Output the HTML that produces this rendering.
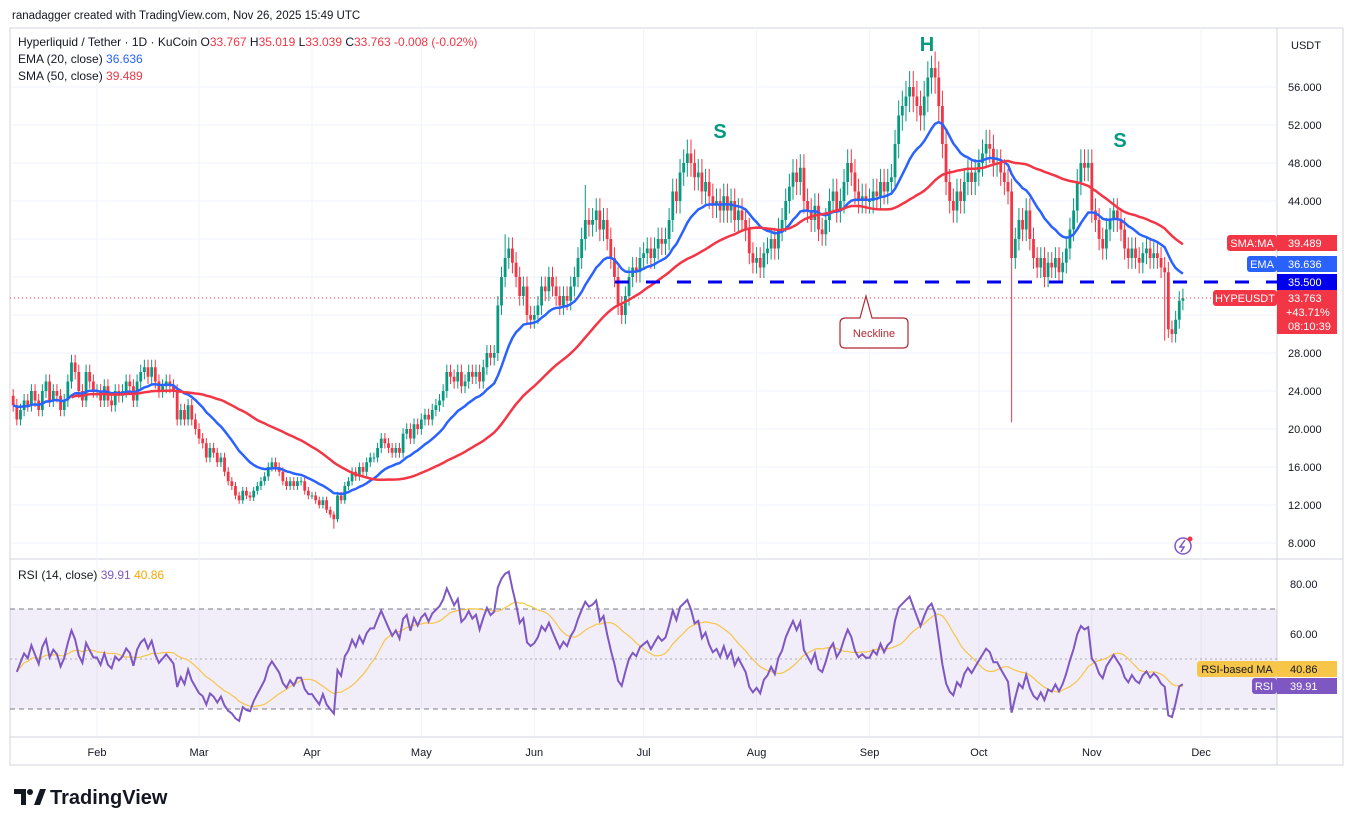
<!DOCTYPE html>
<html><head><meta charset="utf-8">
<style>
body{margin:0;background:#fff;font-family:"Liberation Sans",sans-serif;}
svg text{font-family:"Liberation Sans",sans-serif;}
</style></head>
<body>
<svg id="c" width="1353" height="826" viewBox="0 0 1353 826" xmlns="http://www.w3.org/2000/svg">
<rect x="0" y="0" width="1353" height="826" fill="#fff"/>
<text x="12" y="19" font-size="11.5" fill="#131722">ranadagger created with TradingView.com, Nov 26, 2025 15:49 UTC</text>
<rect x="10" y="28" width="1333" height="737" fill="none" stroke="#d1d4dc"/>
<line x1="1277" y1="28" x2="1277" y2="765" stroke="#d1d4dc"/>
<line x1="10" y1="559" x2="1343" y2="559" stroke="#d1d4dc"/>
<line x1="10" y1="737" x2="1343" y2="737" stroke="#d1d4dc"/>
<g id="grid"></g>
<rect x="10" y="609" width="1267" height="100" fill="#7e57c2" fill-opacity="0.1"/>
<line x1="10" y1="609" x2="1277" y2="609" stroke="#787b86" stroke-dasharray="5,4"/>
<line x1="10" y1="659" x2="1277" y2="659" stroke="#787b86" stroke-dasharray="2,3" stroke-opacity="0.6"/>
<line x1="10" y1="709" x2="1277" y2="709" stroke="#787b86" stroke-dasharray="5,4"/>
<g id="candles"></g>
<g id="mas"></g>
<line x1="615" y1="282" x2="1277" y2="282" stroke="#0000ee" stroke-width="3" stroke-dasharray="14,17"/>
<line x1="10" y1="298" x2="1277" y2="298" stroke="#f23645" stroke-dasharray="1,3"/>
<g id="rsi"></g>
<text x="720" y="138" font-size="20" font-weight="bold" fill="#089981" text-anchor="middle">S</text>
<text x="927" y="51" font-size="20" font-weight="bold" fill="#089981" text-anchor="middle">H</text>
<text x="1120" y="147" font-size="20" font-weight="bold" fill="#089981" text-anchor="middle">S</text>
<g>
<path d="M846,318 L860,318 L866,296 L872,318 L903,318 Q908,318 908,323 L908,343 Q908,348 903,348 L845,348 Q840,348 840,343 L840,323 Q840,318 846,318 Z" fill="#fff" stroke="#b22833" stroke-width="1.2"/>
<text x="874" y="337" font-size="11" fill="#b22833" text-anchor="middle">Neckline</text>
</g>
<g font-size="12" fill="#131722">
<text x="18" y="46">Hyperliquid / Tether · 1D · KuCoin <tspan fill="#131722">O</tspan><tspan fill="#f23645">33.767</tspan> H<tspan fill="#f23645">35.019</tspan> L<tspan fill="#f23645">33.039</tspan> C<tspan fill="#f23645">33.763 -0.008 (-0.02%)</tspan></text>
<text x="18" y="63">EMA (20, close) <tspan fill="#2962ff">36.636</tspan></text>
<text x="18" y="80">SMA (50, close) <tspan fill="#f23645">39.489</tspan></text>
<text x="18" y="579">RSI (14, close) <tspan fill="#7e57c2">39.91</tspan> <tspan fill="#f7a600">40.86</tspan></text>
</g>
<text x="1291" y="49" font-size="11" fill="#131722">USDT</text>
<g id="axes" font-size="11" fill="#131722"></g>
<g font-size="11">
<rect x="1227" y="235" width="50" height="16" rx="3" fill="#f23645"/><text x="1252" y="247" fill="#fff" text-anchor="middle">SMA:MA</text>
<rect x="1277" y="235" width="60" height="16" fill="#f23645"/><text x="1288" y="247" fill="#fff">39.489</text>
<rect x="1247" y="256" width="30" height="16" rx="3" fill="#2962ff"/><text x="1262" y="268" fill="#fff" text-anchor="middle">EMA</text>
<rect x="1277" y="256" width="60" height="16" fill="#2962ff"/><text x="1288" y="268" fill="#fff">36.636</text>
<rect x="1277" y="274" width="60" height="16" fill="#0000ee"/><text x="1288" y="286" fill="#fff">35.500</text>
<rect x="1213" y="290" width="64" height="16" rx="3" fill="#f23645"/><text x="1245" y="302" fill="#fff" text-anchor="middle">HYPEUSDT</text>
<rect x="1277" y="290" width="60" height="44" fill="#f23645"/><text x="1288" y="302" fill="#fff">33.763</text>
<text x="1286" y="316" fill="#fff">+43.71%</text><text x="1288" y="330" fill="#fff">08:10:39</text>
<rect x="1197" y="661" width="80" height="16" rx="3" fill="#f7c548"/><text x="1237" y="673" fill="#131722" text-anchor="middle">RSI-based MA</text>
<rect x="1277" y="661" width="60" height="16" fill="#f7c548"/><text x="1290" y="673" fill="#131722">40.86</text>
<rect x="1252" y="678" width="25" height="16" rx="3" fill="#7e57c2"/><text x="1264" y="690" fill="#fff" text-anchor="middle">RSI</text>
<rect x="1277" y="678" width="60" height="16" fill="#7e57c2"/><text x="1290" y="690" fill="#fff">39.91</text>
</g>
<g><circle cx="1183" cy="546" r="8" fill="none" stroke="#7e57c2" stroke-width="1.5"/><path d="M1185,540 L1180,547 L1184,547 L1181,552" fill="none" stroke="#7e57c2" stroke-width="1.5"/><circle cx="1190" cy="539" r="2.5" fill="#f23645"/></g>
<g>
<path d="M14,789 h12 v16 h-5 v-11 h-7 z" fill="#131722"/><circle cx="30" cy="792" r="3" fill="#131722"/><path d="M34,805 l6,-16 h6 l-6,16 z" fill="#131722"/>
<text x="50" y="804" font-size="20" font-weight="bold" fill="#131722">TradingView</text>
</g>
</svg>
<script>
const closes=[22.5,21,22,23,22.5,24,23,22,24,25,23,24,23.5,22,23,25,27,26,24,23,26,25,24,
24,23,24.5,23,22.5,24,23.5,24,25,24.5,23,25,26,26.5,25.5,26.5,25,24,24.5,25,24.5,24,21,22,21,22.5,21,20,
19,18.5,17,18,17.5,16.5,17,15.5,14.5,14,13,12.5,13.5,13,12.8,13.5,14,14.5,15,16,16.5,16,15.5,14.5,14,14.5,14,14.5,14.5,13.5,13,
13,12.5,12,12.5,11.5,11,10.5,13,12.5,14,14.5,15.5,15,16,15.5,16.5,17,17,18,19,18.5,18,17.5,18,17.5,19.5,20,19,20.5,20,
21,21.5,21,22,22.5,23,24,26,25.5,25,26,24.5,25,26,25.5,26,25,26.5,28,27.5,28,33,36,38,39,37.5,36,34,35,32,31.5,
32,33,35,34.5,36,35,34,33,34,33.5,35,36,38,40,42,41.5,42,43,41,42,40,38,36,33,32,34,36,37,36.5,38,
38.5,39,38,39,40,39.5,40,42,45,44,47,48,49,48,46.5,47,45,46,44.5,43.5,44,43,44.5,43,44,42,43,42,41,38.5,37.5,
38,37,38.5,39,40,39,41,42,44,45.5,47,46,47.5,44,43,42,43.5,41,40.5,42,44,45,43,44,46,48,47,45,44,44.5,44,
44,45,44.5,46,45,46,46.5,50,53,54,55,56,55,54,53,55,57,58,57,54,50,46,44,43,45,44,46,47,46,47,
48,49,50,49.5,48,48,47,46,45,38,40,42,41,43,40,38,37,38,36,37.5,37,38,36.5,37.5,39,41,43,46,48,47.5,48,
43,42,40,39,41,42,43,42,41,39,38,39,38,37.5,38.5,39,38,38.5,38,37,36.5,30.5,30,31.5,33.5,33.763];
const lowOverrides=[[88,9.5],[274,20.7],[316,29.3]];
const highOverrides=[[135,40.5],[157,45.7],[252,59.3]];
const priceTicks=[56,52,48,44,40,36,32,28,24,20,16,12,8];
const priceTickLabels=["56.000","52.000","48.000","44.000","","","","28.000","24.000","20.000","16.000","12.000","8.000"];
const rsiTicks=[80,60];
const rsiTickLabels=["80.00","60.00"];
const monthLabels=["Feb","Mar","Apr","May","Jun","Jul","Aug","Sep","Oct","Nov","Dec"];
const monthDayIndex=[23,51,82,112,143,173,204,235,265,296,326];

const NS="http://www.w3.org/2000/svg";
const xOf=i=>97+(i-23)*3.644;
const yP=p=>543-(p-8)*9.5;
const yR=v=>584+(80-v)*2.5;
function mk(tag,attrs,parent){const e=document.createElementNS(NS,tag);for(const k in attrs)e.setAttribute(k,attrs[k]);parent.appendChild(e);return e;}

const grid=document.getElementById('grid');
priceTicks.forEach(t=>{const l=mk('line',{x1:10,x2:1277,y1:yP(t),y2:yP(t),stroke:'#f0f3fa'},grid);

});
monthDayIndex.forEach(d=>{const l=mk('line',{x1:xOf(d),x2:xOf(d),y1:28,y2:737,stroke:'#f0f3fa'},grid);

});

const axes=document.getElementById('axes');
priceTicks.forEach((t,k)=>{if(!priceTickLabels[k])return;const e=mk('text',{x:1288,y:yP(t)+4},axes);e.textContent=priceTickLabels[k];

});
rsiTicks.forEach((t,k)=>{const e=mk('text',{x:1290,y:yR(t)+4},axes);e.textContent=rsiTickLabels[k];

});
monthLabels.forEach((m,k)=>{const e=mk('text',{x:xOf(monthDayIndex[k]),y:756,'text-anchor':'middle'},axes);e.textContent=m;

});

const lowMap={},highMap={};lowOverrides.forEach(([i,v])=>lowMap[i]=v);highOverrides.forEach(([i,v])=>highMap[i]=v);
const cg=document.getElementById('candles');
closes.forEach((c,i)=>{
  const o=i===0?23.5:closes[i-1];
  const up=c>=o;const col=up?'#089981':'#f23645';
  const hi=highMap[i]!==undefined?highMap[i]:Math.max(o,c)*1.03;
  const lo=lowMap[i]!==undefined?lowMap[i]:Math.min(o,c)*0.97;
  const x=xOf(i);
  const g=mk('g',{},cg);
  
  
  mk('line',{x1:x,x2:x,y1:yP(hi),y2:yP(lo),stroke:col,'stroke-width':1},g);
  const yt=yP(Math.max(o,c)),yb=yP(Math.min(o,c));
  mk('rect',{x:x-1.4,y:yt,width:2.8,height:Math.max(1,yb-yt),fill:col},g);
});

// EMA20 & SMA50
const ema=[];closes.forEach((c,i)=>{ema.push(i===0?c:ema[i-1]+(c-ema[i-1])*2/21);});
const sma=closes.map((c,i)=>{const s=closes.slice(Math.max(0,i-49),i+1);return s.reduce((a,b)=>a+b,0)/s.length;});
const mg=document.getElementById('mas');
const emaPath=mk('path',{d:ema.map((v,i)=>(i?'L':'M')+xOf(i).toFixed(1)+','+yP(v).toFixed(1)).join(''),fill:'none',stroke:'#2962ff','stroke-width':2.5},mg);


const smaPath=mk('path',{d:sma.slice(16).map((v,k)=>(k?'L':'M')+xOf(k+16).toFixed(1)+','+yP(v).toFixed(1)).join(''),fill:'none',stroke:'#f23645','stroke-width':2.5},mg);



// RSI (Wilder, seeded neutral)
const rsi=[];let ag=0.5,al=0.5;
for(let i=1;i<closes.length;i++){const d=closes[i]-closes[i-1];const g=Math.max(d,0),l=Math.max(-d,0);
 ag=(ag*13+g)/14;al=(al*13+l)/14;
 rsi.push([i,al===0?100:100-100/(1+ag/al)]);}
const rsiMa=rsi.map((p,k)=>{const s=rsi.slice(Math.max(0,k-13),k+1);return [p[0],s.reduce((a,b)=>a+b[1],0)/s.length];});
const rg=document.getElementById('rsi');
const clampR=v=>Math.max(18,Math.min(92,v));
const maPath=mk('path',{d:rsiMa.map((p,k)=>(k?'L':'M')+xOf(p[0]).toFixed(1)+','+yR(clampR(p[1])).toFixed(1)).join(''),fill:'none',stroke:'#f7c548','stroke-width':1.2},rg);


const rPath=mk('path',{d:rsi.map((p,k)=>(k?'L':'M')+xOf(p[0]).toFixed(1)+','+yR(clampR(p[1])).toFixed(1)).join(''),fill:'none',stroke:'#7e57c2','stroke-width':2},rg);


</script>
</body></html>
